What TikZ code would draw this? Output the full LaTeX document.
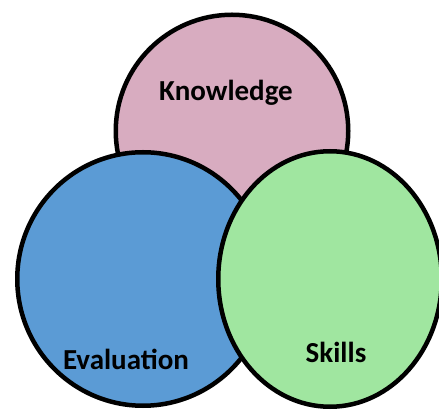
\documentclass[tikz,border=0pt]{standalone}
\usepackage{fontspec}
\setmainfont{Carlito}
\usetikzlibrary{shapes.geometric}
\definecolor{pinkfill}{RGB}{216,172,192}
\definecolor{bluefill}{RGB}{91,155,213}
\definecolor{greenfill}{RGB}{160,230,160}
\begin{document}
\begin{tikzpicture}[x=1pt,y=-1pt,
  setbubble/.style={ellipse, draw=black, line width=4.5pt, inner sep=0pt},
  setlabel/.style={font=\bfseries\fontsize{29}{34}\selectfont, text=black, inner sep=0pt}]
\useasboundingbox (0,0) rectangle (439,411);
\node[setbubble, fill=pinkfill, minimum width=232.5pt, minimum height=232.5pt] (know) at (232,131) {};
\node[setbubble, fill=bluefill, minimum width=251.5pt, minimum height=253.5pt] (eval) at (143,279) {};
\node[setbubble, fill=greenfill, minimum width=223.5pt, minimum height=255.5pt] (skill) at (330,279) {};
\node[setlabel] (knowt) at (226,93) {Knowledge};
\node[setlabel] (evalt) at (126,359) {Evaluation};
\node[setlabel] (skillt) at (336,352) {Skills};
\end{tikzpicture}
\end{document}
